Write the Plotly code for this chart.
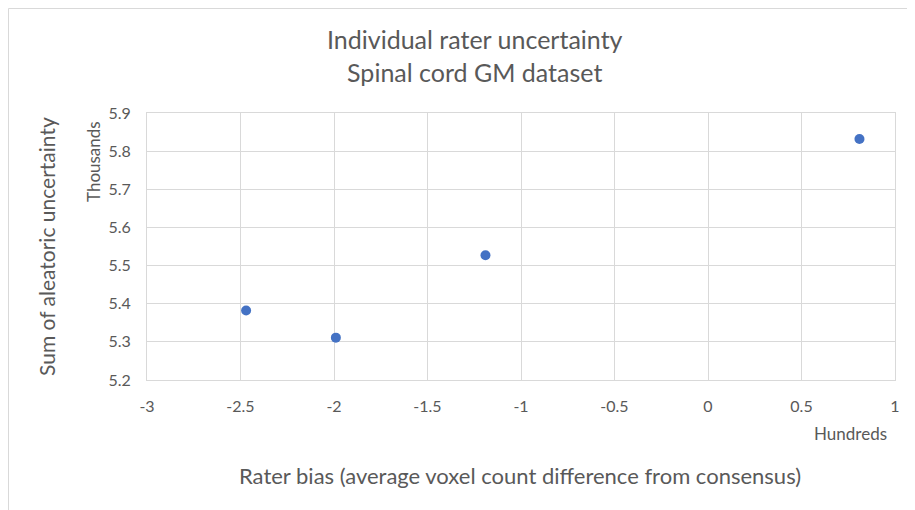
import plotly.graph_objects as go

# Data (x in hundreds, y in thousands)
rater_bias = [-2.47, -1.99, -1.19, 0.81]
aleatoric_sum = [5.382, 5.311, 5.527, 5.832]

x_tickvals = [-3, -2.5, -2, -1.5, -1, -0.5, 0, 0.5, 1]
x_ticktext = ["-3", "-2.5", "-2", "-1.5", "-1", "-0.5", "0", "0.5", "1"]
y_tickvals = [5.2, 5.3, 5.4, 5.5, 5.6, 5.7, 5.8, 5.9]
y_ticktext = ["5.2", "5.3", "5.4", "5.5", "5.6", "5.7", "5.8", "5.9"]

FONT = "Lato, 'Open Sans', sans-serif"
TXT = "#595959"
GRID = "#d9d9d9"

OFF = 8  # page body offset
W, H = 915, 510
PW, PH = 748, 267
L, T = 147 - OFF, 113 - OFF
R = W - L - PW
B = H - T - PH


def px_x(px):
    return (px - OFF - L) / PW


def px_y(py):
    return (T + PH - (py - OFF)) / PH


fig = go.Figure()
fig.add_trace(go.Scatter(
    x=rater_bias, y=aleatoric_sum, mode="markers",
    marker=dict(color="#4472C4", size=10),
    showlegend=False,
))

axis_common = dict(
    showgrid=True, gridcolor=GRID, gridwidth=1,
    zeroline=True, zerolinecolor=GRID, zerolinewidth=1,
    showline=True, linecolor=GRID, linewidth=1, mirror=True,
    ticks="", tickfont=dict(family=FONT, size=16, color=TXT),
)

fig.update_layout(
    width=W, height=H,
    margin=dict(l=L, r=R, t=T, b=B),
    paper_bgcolor="white", plot_bgcolor="white",
    font=dict(family=FONT, color=TXT),
    xaxis=dict(range=[-3, 1], tickvals=x_tickvals, ticktext=x_ticktext,
               ticklabelstandoff=12, **axis_common),
    yaxis=dict(range=[5.2, 5.9], tickvals=y_tickvals, ticktext=y_ticktext,
               ticklabelstandoff=12, **axis_common),
)

annotations = [
    dict(text="Individual rater uncertainty<br>Spinal cord GM dataset",
         x=px_x(475), y=px_y(56), font=dict(size=25, color=TXT, family=FONT)),
    dict(text="Sum of aleatoric uncertainty", textangle=-90,
         x=px_x(46), y=px_y(246), font=dict(size=21, color=TXT, family=FONT)),
    dict(text="Thousands", textangle=-90,
         x=px_x(93), y=px_y(162), font=dict(size=17, color=TXT, family=FONT)),
    dict(text="Rater bias (average voxel count difference from consensus)",
         x=px_x(520), y=px_y(475), font=dict(size=22, color=TXT, family=FONT)),
    dict(text="Hundreds",
         x=px_x(850), y=px_y(433), font=dict(size=17, color=TXT, family=FONT)),
]
for a in annotations:
    fig.add_annotation(xref="paper", yref="paper", showarrow=False,
                       xanchor="center", yanchor="middle", **a)

# chart-area border (left and top edges visible in the reference)
left_x = (0.5 - L) / PW
top_y = (T + PH - 0.5) / PH
fig.add_shape(type="line", xref="paper", yref="paper",
              x0=left_x, x1=left_x, y0=-B / PH, y1=top_y,
              line=dict(color=GRID, width=1), layer="below")
fig.add_shape(type="line", xref="paper", yref="paper",
              x0=left_x, x1=(W - L) / PW, y0=top_y, y1=top_y,
              line=dict(color=GRID, width=1), layer="below")

fig.write_html("out.html")
